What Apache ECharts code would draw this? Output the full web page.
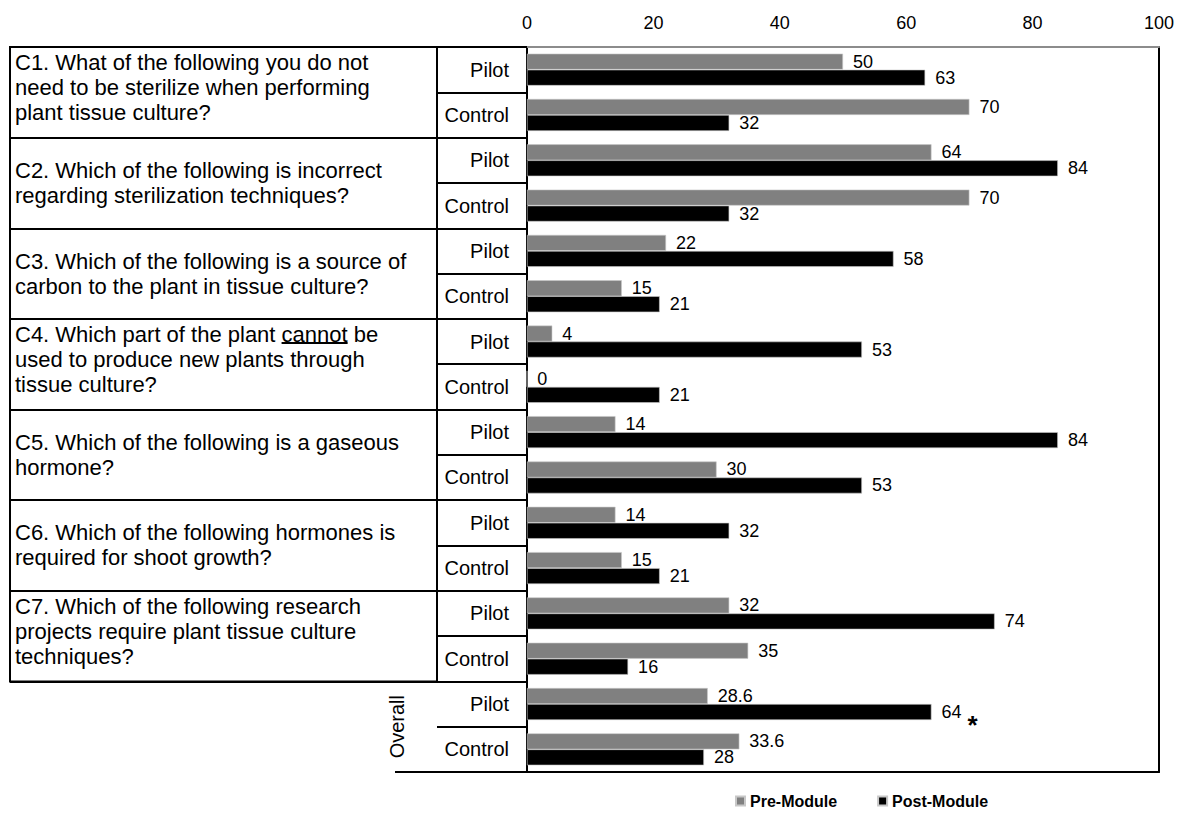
<!DOCTYPE html>
<html>
<head>
<meta charset="utf-8">
<script src="https://cdn.jsdelivr.net/npm/echarts@6/dist/echarts.min.js"></script>
<style>
html,body{margin:0;padding:0;background:#fff;}
#chart{width:1179px;height:819px;}
</style>
</head>
<body>
<div id="chart"></div>
<script>
// ---- data ----
const rowLabels = ['Pilot','Control','Pilot','Control','Pilot','Control','Pilot','Control',
                   'Pilot','Control','Pilot','Control','Pilot','Control','Pilot','Control'];
const groups = ['C1','C2','C3','C4','C5','C6','C7','Overall'];
const questions = [
  'C1. What of the following you do not\nneed to be sterilize when performing\nplant tissue culture?',
  'C2. Which of the following is incorrect\nregarding sterilization techniques?',
  'C3. Which of the following is a source of\ncarbon to the plant in tissue culture?',
  'C4. Which part of the plant cannot be\nused to produce new plants through\ntissue culture?',
  'C5. Which of the following is a gaseous\nhormone?',
  'C6. Which of the following hormones is\nrequired for shoot growth?',
  'C7. Which of the following research\nprojects require plant tissue culture\ntechniques?'
];
const underlinedWords = ['cannot'];
const preModule  = [50, 70, 64, 70, 22, 15, 4, 0, 14, 30, 14, 15, 32, 35, 28.6, 33.6];
const postModule = [63, 32, 84, 32, 58, 21, 53, 21, 84, 53, 32, 21, 74, 16, 64, 28];
const significant = [false,false,false,false,false,false,false,false,false,false,false,false,false,false,true,false];
const xTicks = [0, 20, 40, 60, 80, 100];

const FONT = '"Liberation Sans", Arial, sans-serif';
const chart = echarts.init(document.getElementById('chart'), null, {renderer: 'svg'});

const underlineBg = new echarts.graphic.LinearGradient(0, 0, 0, 1, [
  {offset: 0, color: 'rgba(0,0,0,0)'},
  {offset: 0.86, color: 'rgba(0,0,0,0)'},
  {offset: 0.86, color: '#000'},
  {offset: 0.93, color: '#000'},
  {offset: 0.93, color: 'rgba(0,0,0,0)'},
  {offset: 1, color: 'rgba(0,0,0,0)'}
]);

// layout helpers
const plotTop = 47, plotBottom = 47, H = 819;
const groupH = (H - plotTop - plotBottom) / groups.length;
const tableBottom = plotBottom + groupH; // table stops above the "Overall" group

const questionData = questions.map(q =>
  q.split('\n').length >= 3 ? {value: q, textStyle: {padding: [0, 0, 10, 0]}} : q);

const option = {
  animation: false,
  backgroundColor: '#fff',
  textStyle: {fontFamily: FONT},
  grid: [
    {left: 527, right: 20, top: plotTop, bottom: plotBottom},
    {left: 10, right: 1179 - 437, top: plotTop, bottom: tableBottom, show: true,
     borderColor: '#000', borderWidth: 2, backgroundColor: 'transparent'}
  ],
  legend: {
    data: ['Pre-Module', 'Post-Module'],
    left: 730, top: 788,
    icon: 'rect', itemWidth: 9, itemHeight: 9, itemGap: 40,
    textStyle: {fontSize: 16, fontWeight: 'bold', color: '#000', fontFamily: FONT}
  },
  xAxis: [
    {gridIndex: 0, type: 'value', position: 'top', min: xTicks[0], max: xTicks[xTicks.length - 1],
     interval: xTicks[1] - xTicks[0],
     axisLine: {show: true, lineStyle: {color: '#8c8c8c', width: 2}},
     axisTick: {show: false}, splitLine: {show: false},
     axisLabel: {fontSize: 18, color: '#000', margin: 15, fontFamily: FONT}},
    {gridIndex: 0, type: 'value', position: 'bottom', min: 0, max: 100,
     axisLine: {show: true, lineStyle: {color: '#000', width: 2}},
     axisTick: {show: false}, splitLine: {show: false}, axisLabel: {show: false}},
    {gridIndex: 1, type: 'value', show: false}
  ],
  yAxis: [
    {gridIndex: 0, type: 'category', data: rowLabels, inverse: true, position: 'left',
     axisLine: {show: true, lineStyle: {color: '#000', width: 2}},
     axisTick: {show: true, length: 90, interval: 0, lineStyle: {color: '#000', width: 2}},
     axisLabel: {interval: 0, fontSize: 20, color: '#000', margin: 18, fontFamily: FONT}},
    {gridIndex: 0, type: 'category', data: groups, inverse: true, position: 'left',
     axisLine: {show: false},
     axisTick: {show: true, length: 132, interval: 0, lineStyle: {color: '#000', width: 2}},
     axisLabel: {interval: 0, rotate: 90, margin: 120, fontSize: 20, color: '#000', fontFamily: FONT,
                 formatter: v => (v === 'Overall' ? v : '')}},
    {gridIndex: 0, type: 'category', data: rowLabels, inverse: true, position: 'right',
     axisLine: {show: true, lineStyle: {color: '#000', width: 2}},
     axisTick: {show: false}, axisLabel: {show: false}},
    {gridIndex: 1, type: 'category', data: questionData, inverse: true, position: 'left',
     axisLine: {show: false}, axisTick: {show: false},
     splitLine: {show: true, lineStyle: {color: '#000', width: 2}},
     axisLabel: {interval: 0, inside: true, margin: 5, fontSize: 22, lineHeight: 25,
                 align: 'left', color: '#000', fontFamily: FONT,
                 formatter: v => {
                   let s = v;
                   underlinedWords.forEach(w => { s = s.replace(w, '{u|' + w + '}'); });
                   return s;
                 },
                 rich: {u: {fontSize: 22, lineHeight: 25, color: '#000', fontFamily: FONT,
                            backgroundColor: underlineBg}}}}
  ],
  series: [
    {name: 'Pre-Module', type: 'bar', xAxisIndex: 0, yAxisIndex: 0, data: preModule,
     barWidth: 16, barGap: '0%',
     itemStyle: {color: '#808080', borderColor: '#c8c8c8', borderWidth: 0.6},
     label: {show: true, position: 'right', distance: 10, fontSize: 18, color: '#000', fontFamily: FONT}},
    {name: 'Post-Module', type: 'bar', xAxisIndex: 0, yAxisIndex: 0, data: postModule,
     barWidth: 16, barGap: '0%',
     itemStyle: {color: '#000', borderColor: '#c8c8c8', borderWidth: 0.6},
     label: {show: true, position: 'right', distance: 10, fontSize: 18, color: '#000', fontFamily: FONT,
             formatter: p => significant[p.dataIndex] ? '{v|' + p.value + '}{s|*}' : String(p.value),
             rich: {v: {fontSize: 18, color: '#000', fontFamily: FONT},
                    s: {fontSize: 26, fontWeight: 'bold', color: '#000', fontFamily: FONT,
                        padding: [26, 0, 0, 6]}}}}
  ]
};
chart.setOption(option);
</script>
</body>
</html>
